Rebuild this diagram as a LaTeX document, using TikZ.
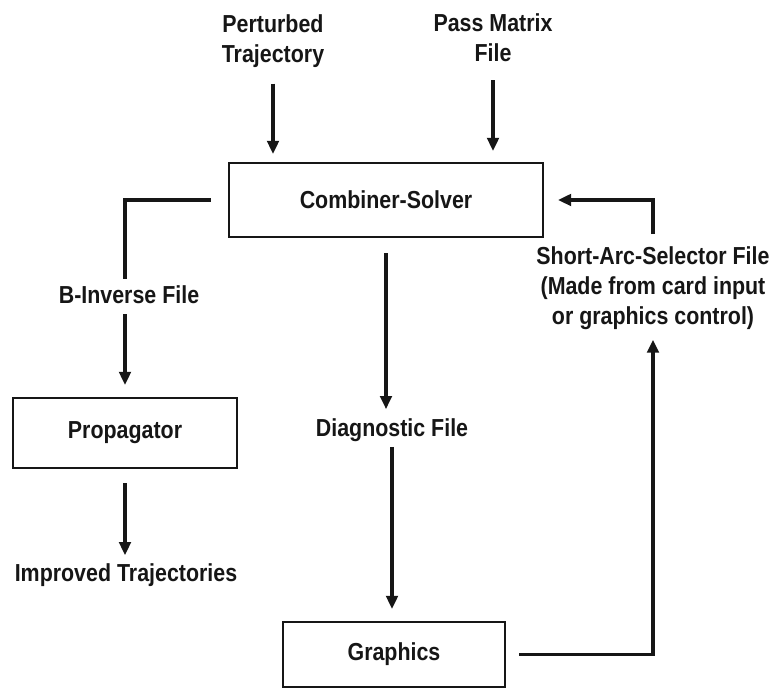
\documentclass[tikz,border=0pt]{standalone}
\usepackage{fontspec}
\setmainfont[FakeStretch=0.87]{Liberation Sans}
\usepackage{tikz}
\usetikzlibrary{arrows.meta,positioning,calc}
\definecolor{fink}{HTML}{161616}
\tikzset{
  >={Triangle[length=2.6mm,width=2.3mm]},
  fbox/.style={draw=fink, line width=1.2pt, minimum width=#1, inner sep=0pt,
               font=\fontsize{14}{17}\selectfont\bfseries, text=fink},
  flbl/.style={inner sep=0pt, align=center, text=fink,
               font=\fontsize{14}{17}\selectfont\bfseries},
  fline/.style={draw=fink, line width=1.8pt},
  flink/.style={->, draw=fink, line width=1.8pt},
}

\begin{document}
\begin{tikzpicture}[x=1cm,y=1cm]
  \useasboundingbox (0,0) rectangle (15.56,13.8);

  % caixas
  \node[fbox=6.28cm, minimum height=1.48cm] (comb)  at (7.72,9.80) {Combiner-Solver};
  \node[fbox=4.48cm, minimum height=1.40cm] (prop)  at (2.50,5.14) {Propagator};
  \node[fbox=4.44cm, minimum height=1.30cm] (graph) at (7.88,0.71) {Graphics};

  % rótulos
  \node[flbl] (pert) at (5.46,12.98) {Perturbed\\Trajectory};
  \node[flbl] (pass) at (9.86,13.04) {Pass Matrix\\File};
  \node[flbl] (binv) at (2.58,7.90) {B-Inverse File};
  \node[flbl] (impr) at (2.52,2.30) {Improved Trajectories};
  \node[flbl] (diag) at (7.84,5.20) {Diagnostic File};
  \node[flbl] (sas)  at (13.06,8.04)
    {Short-Arc-Selector File\\(Made from card input\\or graphics control)};

  % ligações
  \draw[flink, shorten <=0.32cm, shorten >=0.16cm] (pert) -- (pert |- comb.north);
  \draw[flink, shorten <=0.36cm, shorten >=0.22cm] (pass) -- (pass |- comb.north);
  \draw[fline, shorten <=0.34cm, shorten >=0.14cm] (comb.west) -| (prop.north |- binv.north);
  \draw[flink, shorten <=0.20cm, shorten >=0.24cm] (binv.south -| prop.north) -- (prop.north);
  \draw[flink, shorten <=0.28cm, shorten >=0.16cm] (prop.south) -- (prop.south |- impr.north);
  \draw[flink, shorten <=0.30cm, shorten >=0.18cm] (comb.south) -- (comb.south |- diag.north);
  \draw[flink, shorten <=0.10cm, shorten >=0.24cm] (diag) -- (diag |- graph.north);
  \draw[flink, shorten <=0.26cm, shorten >=0.20cm] (graph.east) -| (sas.south);
  \draw[flink, shorten <=0.24cm, shorten >=0.28cm] (sas.north) |- (comb.east);

\end{tikzpicture}
\end{document}
